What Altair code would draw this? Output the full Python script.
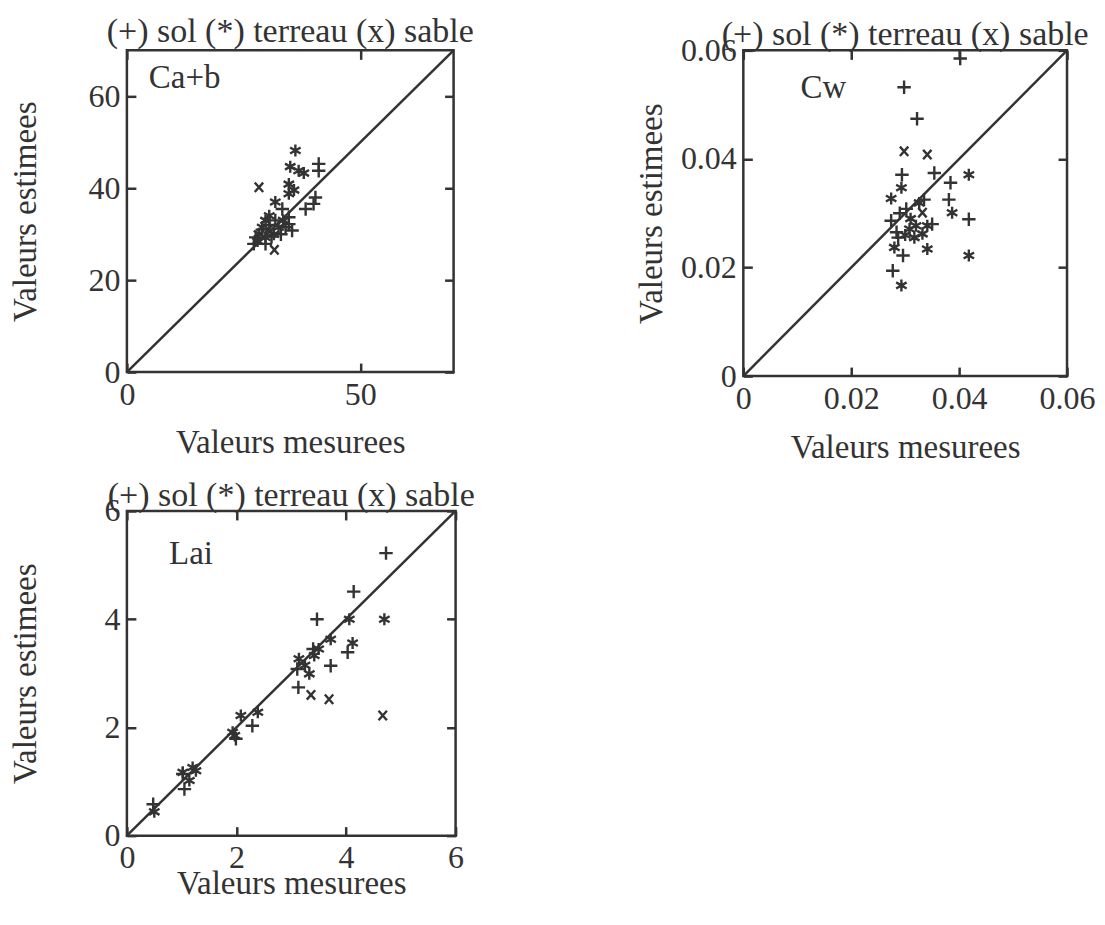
import altair as alt
import pandas as pd

SERIF = "Liberation Serif"
INK = "#333333"
LEGEND_TITLE = "(+) sol (*) terreau (x) sable"
TYPES = ["sol", "terreau", "sable"]

# ---------------- Panel 1 : Ca+b ----------------
ca_sol_x = [27.2, 27.6, 29.7, 29.0, 31.0, 30.5, 31.8, 33.3, 33.0, 34.0, 34.7, 34.7, 35.4, 38.3, 40.0, 40.4, 41.1, 41.1]
ca_sol_y = [27.9, 29.3, 27.9, 31.0, 29.5, 32.0, 33.0, 35.5, 30.0, 31.5, 33.7, 32.2, 30.8, 35.5, 36.6, 38.0, 43.8, 45.3]
ca_ter_x = [36.1, 35.0, 36.8, 37.9, 34.7, 35.8, 34.7, 31.8, 29.7, 29.0, 28.3, 29.7, 32.5, 30.5, 31.5, 28.0, 33.5]
ca_ter_y = [48.2, 44.7, 43.8, 43.3, 40.9, 39.6, 38.8, 37.0, 33.0, 31.5, 30.1, 29.3, 31.5, 34.0, 30.0, 28.5, 33.0]
ca_sab_x = [28.3, 31.6, 30.3]
ca_sab_y = [40.2, 26.6, 31.0]
ca_xticks = [0, 50]
ca_yticks = [0, 20, 40, 60]

# ---------------- Panel 2 : Cw ----------------
cw_sol_x = [0.0298, 0.0322, 0.0402, 0.0294, 0.0354, 0.0384, 0.0381, 0.0418, 0.0302, 0.0290, 0.0274, 0.0287, 0.0284, 0.0296, 0.0277, 0.0335, 0.0350]
cw_sol_y = [0.0532, 0.0474, 0.0585, 0.0371, 0.0374, 0.0356, 0.0325, 0.0289, 0.0308, 0.0300, 0.0286, 0.0255, 0.0265, 0.0222, 0.0194, 0.0325, 0.0280]
cw_ter_x = [0.0293, 0.0274, 0.0418, 0.0387, 0.0418, 0.0341, 0.0280, 0.0293, 0.0326, 0.0320, 0.0341, 0.0308, 0.0317, 0.0332, 0.0310, 0.0300]
cw_ter_y = [0.0347, 0.0327, 0.0371, 0.0301, 0.0222, 0.0234, 0.0237, 0.0167, 0.0319, 0.0277, 0.0277, 0.0271, 0.0255, 0.0262, 0.0290, 0.0260]
cw_sab_x = [0.0298, 0.0341, 0.0332]
cw_sab_y = [0.0414, 0.0408, 0.0301]
cw_ticks = [0, 0.02, 0.04, 0.06]

# ---------------- Panel 3 : Lai ----------------
lai_sol_x = [4.73, 4.14, 3.47, 4.03, 3.72, 3.11, 3.13, 3.40, 2.29, 1.99, 1.05, 1.02, 0.48]
lai_sol_y = [5.22, 4.51, 4.00, 3.39, 3.14, 3.08, 2.74, 3.45, 2.03, 1.79, 0.86, 1.14, 0.58]
lai_ter_x = [4.06, 4.70, 3.72, 4.12, 3.42, 3.50, 3.14, 3.33, 3.25, 2.39, 2.08, 1.93, 1.97, 1.02, 1.20, 1.26, 1.14, 0.50]
lai_ter_y = [4.00, 4.00, 3.63, 3.56, 3.33, 3.45, 3.27, 2.99, 3.15, 2.28, 2.22, 1.91, 1.85, 1.17, 1.26, 1.20, 1.02, 0.44]
lai_sab_x = [3.36, 3.69, 4.67]
lai_sab_y = [2.60, 2.52, 2.22]
lai_ticks = [0, 2, 4, 6]

PLUS = "M-1,0H1M0,-1V1"
STAR = "M0,-1V1M-0.87,-0.5L0.87,0.5M-0.87,0.5L0.87,-0.5"
CROSS = "M-0.8,-0.9L0.8,0.9M-0.8,0.9L0.8,-0.9"


def points_df(sx, sy, tx, ty, bx, by):
    rows = []
    for t, xs, ys in (("sol", sx, sy), ("terreau", tx, ty), ("sable", bx, by)):
        for a, b in zip(xs, ys):
            rows.append({"mes": a, "est": b, "type": t})
    return pd.DataFrame(rows)


def panel(df, dmax, xticks, yticks, label_expr, name, name_x, name_y, w, h,
          xtitle_pad, ytitle_pad, title_offset):
    sc = alt.Scale(domain=[0, dmax], nice=False, zero=False)
    common = dict(domain=False, grid=False, ticks=True, minExtent=0,
                  tickSize=9, offset=-9, tickColor=INK, tickWidth=2.5)
    lab = dict(labelExpr=label_expr, labelFont=SERIF, labelFontSize=32,
               labelColor=INK, labelPadding=7, labelFlush=False,
               labelOverlap=False,
               titleFont=SERIF, titleFontSize=33, titleColor=INK,
               titleFontWeight="normal")
    line_df = pd.DataFrame({"m": [0, dmax], "e": [0, dmax]})
    line = alt.Chart(line_df).mark_line(color=INK, strokeWidth=2.5).encode(
        x=alt.X("m:Q", scale=sc,
                axis=alt.Axis(title="Valeurs mesurees", orient="bottom",
                              values=xticks, titlePadding=xtitle_pad,
                              **common, **lab)),
        y=alt.Y("e:Q", scale=sc,
                axis=alt.Axis(title="Valeurs estimees", orient="left",
                              values=yticks, titlePadding=ytitle_pad,
                              **common, **lab)),
    )
    mirror = alt.Chart(line_df).mark_line(opacity=0).encode(
        x=alt.X("m:Q", scale=sc,
                axis=alt.Axis(title=None, orient="top", labels=False,
                              values=xticks, **common)),
        y=alt.Y("e:Q", scale=sc,
                axis=alt.Axis(title=None, orient="right", labels=False,
                              values=yticks, **common)),
    )
    pts = alt.Chart(df).mark_point(filled=False, strokeWidth=2.4, color=INK,
                                   opacity=1).encode(
        x=alt.X("mes:Q", scale=sc, axis=None),
        y=alt.Y("est:Q", scale=sc, axis=None),
        shape=alt.Shape("type:N", legend=None,
                        scale=alt.Scale(domain=TYPES, range=[PLUS, STAR, CROSS])),
        size=alt.Size("type:N", legend=None,
                      scale=alt.Scale(domain=TYPES, range=[180, 110, 130])),
    )
    txt_df = pd.DataFrame({"mes": [name_x], "est": [name_y], "name": [name]})
    txt = alt.Chart(txt_df).mark_text(font=SERIF, fontSize=33, color=INK,
                                      align="left", baseline="middle").encode(
        x=alt.X("mes:Q", scale=sc, axis=None),
        y=alt.Y("est:Q", scale=sc, axis=None),
        text="name:N",
    )
    return alt.layer(line, mirror, pts, txt).resolve_axis(
        x="independent", y="independent"
    ).properties(
        width=w, height=h,
        title=alt.Title(LEGEND_TITLE, font=SERIF, fontSize=34,
                        fontWeight="normal", color=INK, offset=title_offset,
                        anchor="middle", frame="group"),
    )


zero_or = lambda fmt: f"datum.value == 0 ? '0' : format(datum.value, '{fmt}')"
int_fmt = "format(datum.value, 'd')"

p1 = panel(points_df(ca_sol_x, ca_sol_y, ca_ter_x, ca_ter_y, ca_sab_x, ca_sab_y),
           70, ca_xticks, ca_yticks, int_fmt, "Ca+b", 4.7, 64.0,
           327, 322, xtitle_pad=16, ytitle_pad=45, title_offset=-4)

p2 = panel(points_df(cw_sol_x, cw_sol_y, cw_ter_x, cw_ter_y, cw_sab_x, cw_sab_y),
           0.06, cw_ticks, cw_ticks, zero_or(".2f"), "Cw", 0.0106, 0.0530,
           324, 326, xtitle_pad=18, ytitle_pad=12, title_offset=-18)

p3 = panel(points_df(lai_sol_x, lai_sol_y, lai_ter_x, lai_ter_y, lai_sab_x, lai_sab_y),
           6, lai_ticks, lai_ticks, int_fmt, "Lai", 0.77, 5.2,
           329, 325, xtitle_pad=-6, ytitle_pad=61, title_offset=-18)

chart = alt.vconcat(
    alt.hconcat(p1, p2, spacing=158),
    p3,
    spacing=10,
).properties(
    padding={"left": 0, "top": 5, "right": 0, "bottom": 0},
    background="white",
).configure_view(stroke=INK, strokeWidth=2.5)

chart.save("out.html", embed_options={"renderer": "svg", "actions": False})
